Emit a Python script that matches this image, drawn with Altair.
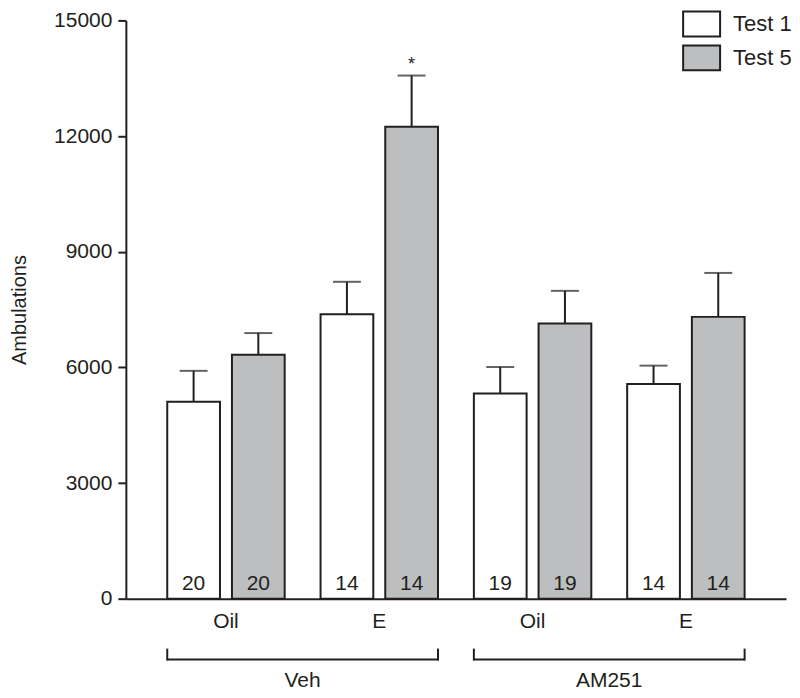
import altair as alt
import pandas as pd

# ---- data ----
treatments = ["Veh", "Veh", "AM251", "AM251"]
drugs = ["Oil", "E", "Oil", "E"]
tests = ["Test 1", "Test 5"]
test1_mean = [5110, 7375, 5320, 5570]
test1_sem = [800, 845, 690, 475]
test5_mean = [6330, 12240, 7140, 7310]
test5_sem = [560, 1330, 845, 1140]
test1_n = [20, 14, 19, 14]
test5_n = [20, 14, 19, 14]
test5_star = [False, True, False, False]
y_ticks = [0, 3000, 6000, 9000, 12000, 15000]

INK = "#231f20"
GRAY = "#bcbec0"
FONT = "Liberation Sans"
FS = 21

groups = [f"{t}|{d}" for t, d in zip(treatments, drugs)]
rows = []
for i, g in enumerate(groups):
    rows.append(dict(group=g, test=tests[0], mean=test1_mean[i], sem=test1_sem[i],
                     n=test1_n[i], star=False, zero=0))
    rows.append(dict(group=g, test=tests[1], mean=test5_mean[i], sem=test5_sem[i],
                     n=test5_n[i], star=test5_star[i], zero=0))
df = pd.DataFrame(rows)
df["top"] = df["mean"] + df["sem"]

brackets = pd.DataFrame({
    "name": ["Veh", "AM251"],
    "first": [groups[0], groups[2]],
    "last": [groups[1], groups[3]],
})

xscale = alt.Scale(domain=groups, paddingInner=0.234, paddingOuter=0.27)
offscale = alt.Scale(domain=tests, paddingInner=0.185, paddingOuter=0)
yscale = alt.Scale(domain=[0, 15000], nice=False)

X = alt.X("group:N", scale=xscale, sort=groups,
          axis=alt.Axis(title=None, labelExpr="split(datum.label, '|')[1]",
                        ticks=False, labelPadding=12, labelFontSize=FS,
                        labelColor=INK, labelFont=FONT, labelAngle=0,
                        domainColor=INK, domainWidth=2))
XO = alt.XOffset("test:N", scale=offscale, sort=tests)
Y = alt.Y("mean:Q", scale=yscale,
          axis=alt.Axis(title="Ambulations", values=y_ticks, grid=False, format="d",
                        tickSize=8, tickWidth=2, tickColor=INK,
                        domainColor=INK, domainWidth=2,
                        labelFontSize=FS, labelColor=INK, labelFont=FONT,
                        labelPadding=6, titleFontSize=20, titleFont=FONT,
                        titleFontWeight="normal", titleColor=INK,
                        titlePadding=24))

base = alt.Chart(df)

bars = base.mark_bar(stroke=INK, strokeWidth=2).encode(
    x=X, xOffset=XO, y=Y,
    fill=alt.Fill("test:N", scale=alt.Scale(domain=tests, range=["white", GRAY]),
                  legend=alt.Legend(title=None, orient="none", legendX=563, legendY=-10,
                                    padding=0,
                                    symbolType="M-1.48,-1H1.48V1H-1.48Z", symbolSize=625,
                                    symbolStrokeColor=INK, symbolStrokeWidth=2,
                                    labelFontSize=22, labelFont=FONT, labelColor=INK,
                                    labelOffset=18, rowPadding=1)),
)

stems = base.mark_rule(color=INK, strokeWidth=2).encode(
    x=alt.X("group:N", scale=xscale, sort=groups), xOffset=XO,
    y=alt.Y("mean:Q", scale=yscale), y2="top:Q",
)

caps = base.mark_tick(color=INK, orient="horizontal", size=28, thickness=2).encode(
    x=alt.X("group:N", scale=xscale, sort=groups), xOffset=XO,
    y=alt.Y("top:Q", scale=yscale),
)

nlabels = base.mark_text(baseline="alphabetic", dy=-9, fontSize=FS, font=FONT, color=INK).encode(
    x=alt.X("group:N", scale=xscale, sort=groups), xOffset=XO,
    y=alt.Y("zero:Q", scale=yscale), text="n:Q",
)

stars = base.transform_filter("datum.star").mark_text(
    text="*", baseline="bottom", dy=-2, fontSize=18, font=FONT, color=INK).encode(
    x=alt.X("group:N", scale=xscale, sort=groups), xOffset=XO,
    y=alt.Y("top:Q", scale=yscale),
)

bch = alt.Chart(brackets)
bracket_h = bch.mark_rule(color=INK, strokeWidth=2).encode(
    x=alt.X("first:N", scale=xscale, bandPosition=0),
    x2=alt.X2("last:N", bandPosition=1),
    y=alt.value(640),
)
bracket_l = bch.mark_rule(color=INK, strokeWidth=2).encode(
    x=alt.X("first:N", scale=xscale, bandPosition=0),
    y=alt.value(629), y2=alt.value(641),
)
bracket_r = bch.mark_rule(color=INK, strokeWidth=2).encode(
    x=alt.X("last:N", scale=xscale, bandPosition=1),
    y=alt.value(629), y2=alt.value(641),
)
blabels = bch.mark_text(fontSize=FS, font=FONT, color=INK, baseline="middle", dx=-18).encode(
    x=alt.X("last:N", scale=xscale, bandPosition=0),
    y=alt.value(661), text="name:N",
)

chart = alt.layer(bars, stems, caps, nlabels, stars,
                  bracket_h, bracket_l, bracket_r, blabels).properties(
    width=661, height=579, padding={"left": 1, "top": 1, "right": 0, "bottom": 0},
).configure_view(stroke=None)

chart.save("out.html", embed_options={"renderer": "svg", "actions": False})
